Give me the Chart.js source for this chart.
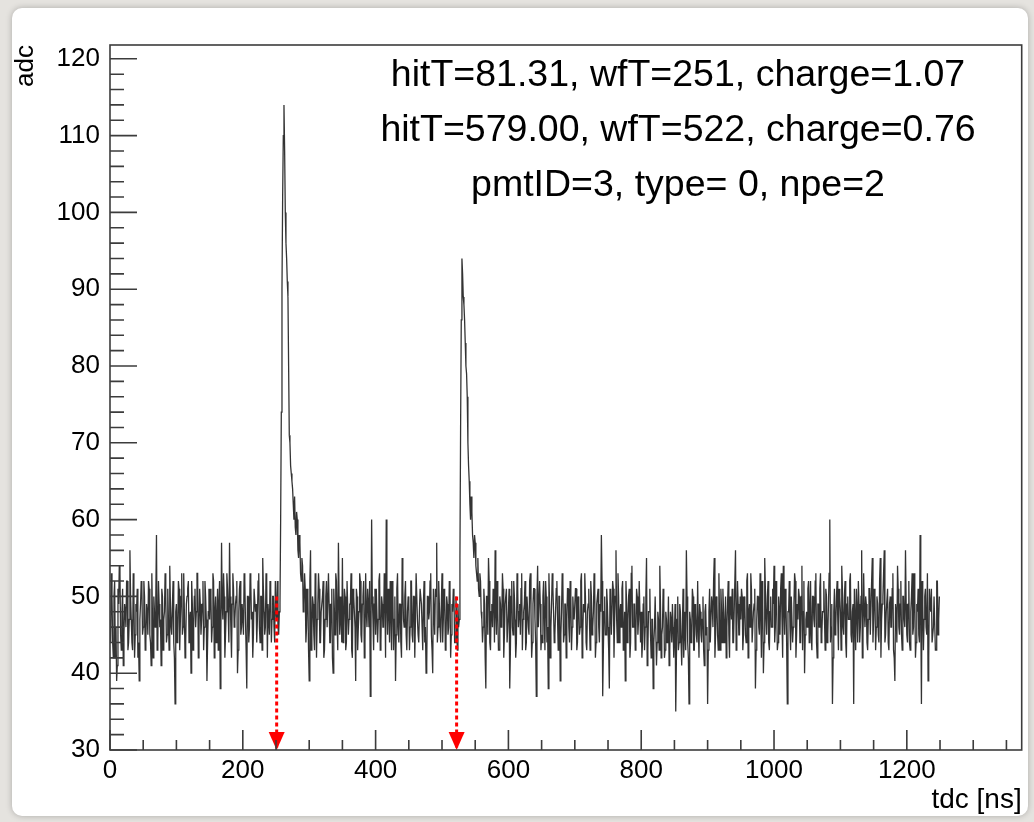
<!DOCTYPE html>
<html>
<head>
<meta charset="utf-8">
<title>PMT waveform</title>
<script src="https://cdn.jsdelivr.net/npm/chart.js@4.4.0/dist/chart.umd.min.js"></script>
<style>
  html, body { margin: 0; padding: 0; }
  body { width: 1034px; height: 822px; background: #e5e3df; position: relative; overflow: hidden; }
  #panel { position: absolute; left: 12px; top: 8px; width: 1016px; height: 808px; background: #fff; border-radius: 10px; box-shadow: 0 0 6px rgba(0,0,0,0.25); }
  #wrap { position: absolute; left: 0; top: 0; width: 1034px; height: 822px; }
</style>
</head>
<body>
<div id="panel"></div>
<div id="wrap"><canvas id="wf"></canvas></div>
<script>
// waveform samples, 1 ns apart, starting at 0 ns (one row = 50 ns)
const adc = [
  47,44,53,50,44,42,50,52,42,46,39,41,51,49,54,53,45,43,48,51,41,45,49,48,46,52,52,43,44,47,56,50,47,44,43,53,50,42,45,49,48,51,42,44,39,47,49,52,51,45,
  46,52,50,43,44,49,48,45,52,51,45,44,41,53,47,42,50,48,46,50,58,43,44,52,49,46,47,41,51,50,43,47,48,53,50,44,45,51,47,43,54,49,46,45,49,52,44,42,36,48,
  49,44,45,52,51,43,47,50,53,45,46,53,48,42,44,49,50,51,52,44,47,48,40,52,49,43,46,50,51,46,48,53,53,42,45,51,49,45,47,49,52,43,46,52,50,47,39,44,48,51,
  47,51,50,44,46,53,52,42,48,50,44,47,51,43,49,52,38,45,57,49,47,53,50,42,45,48,53,51,48,44,57,50,46,42,49,53,51,46,47,49,50,52,40,43,48,51,52,45,46,49,
  49,45,53,52,47,43,38,50,50,44,46,53,52,47,48,42,45,51,51,48,49,44,47,52,53,46,44,50,50,43,55,51,48,45,46,53,52,42,49,49,45,52,51,44,47,50,50,46,44,52,
  48,47,52,46,45,48,49,60,74,90,102,110,114,108,100,96,94,91,89,80,71,70,67,66,65,64,62,60,63,59,58,61,60,56,55,58,57,53,52,55,54,48,49,53,51,44,46,51,50,43,
  39,52,56,43,45,50,49,45,43,53,51,42,47,49,53,51,44,44,48,48,50,52,42,43,47,50,52,46,46,53,49,44,44,49,51,42,40,51,48,45,53,52,47,43,57,50,45,47,50,44,
  55,44,46,51,50,43,44,52,52,45,47,49,49,53,43,42,51,50,48,46,39,51,50,43,46,48,53,52,45,44,49,50,52,42,44,53,48,46,51,49,46,52,37,44,60,50,47,43,49,51,
  45,51,51,44,47,52,53,43,44,50,49,46,46,53,50,42,60,49,45,51,48,44,52,48,43,52,50,43,47,50,39,45,51,53,46,44,49,49,44,42,55,51,47,46,50,52,45,43,48,50,
  49,43,46,52,52,45,44,50,50,42,47,53,53,47,45,44,48,51,51,49,46,43,49,52,44,46,40,41,50,50,47,48,52,53,45,43,40,51,48,45,51,50,57,44,46,52,49,46,44,49,
  53,44,47,51,50,43,44,50,49,45,46,52,51,42,45,49,48,51,50,44,44,50,47,43,49,46,47,55,72,86,94,92,89,88,86,83,80,79,76,70,67,65,62,60,63,61,58,57,55,58,
  57,54,53,52,55,51,50,53,52,48,47,44,46,51,49,42,38,50,50,45,55,52,44,43,48,49,46,51,50,44,56,48,45,52,48,43,43,50,49,46,47,53,51,42,45,49,49,51,44,44,
  48,51,38,43,50,52,46,45,52,50,47,42,44,53,51,46,48,49,45,51,53,43,47,48,49,52,43,44,50,50,46,45,52,53,48,42,44,49,51,51,47,44,37,50,54,46,46,52,49,43,
  45,44,50,52,47,43,52,50,44,46,38,53,49,42,46,49,53,51,48,44,45,48,51,52,47,43,50,50,39,45,48,53,52,44,45,49,49,42,47,51,51,46,44,52,50,43,46,50,48,47,
  47,51,51,43,44,50,49,45,46,52,53,42,45,49,48,53,50,44,43,48,49,51,47,43,52,50,45,46,48,53,51,42,44,49,50,51,46,44,49,48,58,52,37,43,48,50,45,45,51,49,
  46,43,38,51,49,45,45,52,51,42,47,50,56,47,44,53,50,44,48,49,46,51,52,43,45,48,39,52,49,44,47,50,51,42,44,53,54,46,46,49,49,43,45,51,50,45,47,52,52,44,
  48,42,44,49,50,43,46,50,55,41,43,48,48,51,45,42,47,47,38,44,46,50,50,41,44,48,47,43,54,49,42,45,46,51,49,42,43,48,47,44,45,50,41,43,48,47,44,49,46,42,
  45,49,35,42,47,50,43,44,49,48,44,41,46,51,42,45,48,43,56,50,44,42,36,48,47,44,45,51,50,43,43,49,48,45,44,52,46,42,49,48,45,44,47,50,43,41,48,49,45,46,
  36,43,48,51,44,44,50,49,46,52,55,42,45,50,49,45,43,53,47,43,51,48,44,51,48,44,46,50,42,46,49,52,45,42,50,49,47,51,44,44,48,48,56,43,46,52,49,45,45,50,
  47,51,50,43,45,50,49,45,44,52,53,42,48,49,46,53,51,44,44,48,49,51,38,43,47,50,50,46,45,53,48,42,52,49,40,44,55,51,47,45,50,52,44,43,48,50,46,46,51,49,
  54,44,46,52,49,43,44,50,48,45,51,53,47,42,54,49,45,51,49,44,36,48,48,52,46,43,50,50,44,46,49,53,52,42,45,49,47,51,50,44,44,50,54,43,48,52,40,45,47,48,
  46,51,52,44,48,52,45,43,50,50,47,46,52,53,44,42,49,49,46,51,53,44,45,48,48,52,47,43,51,50,44,45,49,53,60,44,46,49,36,42,48,51,45,46,50,52,47,43,51,50,
  48,43,54,51,46,45,50,52,44,42,49,50,47,47,52,53,45,44,48,49,36,51,47,43,51,48,44,52,49,44,46,50,56,42,45,53,48,46,50,49,44,43,47,51,51,45,45,52,55,44,
  47,51,50,43,46,50,49,45,44,52,55,42,47,49,50,53,56,44,45,48,48,51,44,43,49,50,46,46,51,53,43,42,39,49,48,44,54,51,46,45,49,52,45,43,50,50,47,46,56,49,
  45,44,49,52,44,43,48,50,53,45,46,53,50,42,44,49,48,51,45,44,58,48,36,52,49,43,47,50,51,46,45,53,39,42,51,49,48,51,44,44,46,50,50,43,43,52,52,45,47,50
];
const sampleNs = 1;
const tdc = adc.map((_, i) => i * sampleNs);

// reconstructed waveform times, drawn as red arrows
const arrowT = [251, 522];
const arrowFrom = 50;
const arrowTo = 30;

const xTickLabels = [0, 200, 400, 600, 800, 1000, 1200];
const yTickLabels = [30, 40, 50, 60, 70, 80, 90, 100, 110, 120];
const xMinorStep = 50;
const yMinorStep = 2;

const infoLines = [
  "hitT=81.31, wfT=251, charge=1.07",
  "hitT=579.00, wfT=522, charge=0.76",
  "pmtID=3, type= 0, npe=2"
];

const FONT = '"Liberation Sans", Arial, Helvetica, sans-serif';

// ROOT style frame: box, inward ticks, arrow heads, text
const rootFrame = {
  id: "rootFrame",
  afterDatasetsDraw(chart) {
    const { ctx, chartArea: a, scales: { x, y } } = chart;
    ctx.save();

    ctx.fillStyle = "#ff0000";
    arrowT.forEach(t => {
      const px = x.getPixelForValue(t);
      const py = y.getPixelForValue(arrowTo);
      ctx.beginPath();
      ctx.moveTo(px - 8, py - 18);
      ctx.lineTo(px + 8, py - 18);
      ctx.lineTo(px, py);
      ctx.closePath();
      ctx.fill();
    });

    ctx.strokeStyle = "#3c3c3c";
    ctx.lineWidth = 1.6;
    ctx.strokeRect(a.left, a.top, a.right - a.left, a.bottom - a.top);

    ctx.beginPath();
    for (let v = x.min; v <= x.max; v += xMinorStep) {
      const px = x.getPixelForValue(v);
      const len = xTickLabels.includes(v) ? 20 : 10;
      ctx.moveTo(px, a.bottom);
      ctx.lineTo(px, a.bottom - len);
    }
    for (let v = y.min; v <= y.max; v += yMinorStep) {
      const py = y.getPixelForValue(v);
      const len = yTickLabels.includes(v) ? 27 : 14;
      ctx.moveTo(a.left, py);
      ctx.lineTo(a.left + len, py);
    }
    ctx.stroke();

    ctx.fillStyle = "#000";
    ctx.font = "37.5px " + FONT;
    ctx.textAlign = "center";
    ctx.textBaseline = "middle";
    infoLines.forEach((s, i) => ctx.fillText(s, 678, 76 + i * 55));
    ctx.restore();
  }
};

new Chart(document.getElementById("wf"), {
  type: "line",
  data: {
    labels: tdc,
    datasets: [
      ...arrowT.map(t => ({
        data: [{ x: t, y: arrowFrom }, { x: t, y: arrowTo }],
        borderColor: "#ff0000",
        borderWidth: 3,
        borderDash: [4, 3],
        pointRadius: 0
      })),
      {
        data: adc,
        borderColor: "rgba(0,0,0,0.8)",
        borderWidth: 1.3,
        pointRadius: 0,
        tension: 0
      }
    ]
  },
  options: {
    responsive: true,
    maintainAspectRatio: false,
    animation: false,
    layout: { padding: { left: 0, top: 45, right: 12.3, bottom: 0 } },
    plugins: { legend: { display: false }, tooltip: { enabled: false } },
    scales: {
      x: {
        type: "linear",
        min: 0,
        max: 1373,
        afterBuildTicks: s => { s.ticks = xTickLabels.map(v => ({ value: v })); },
        afterFit: s => { s.height = 72; },
        grid: { display: false, drawTicks: false },
        border: { display: false },
        ticks: { color: "#000", padding: 5, maxRotation: 0, callback: v => String(v), font: { family: FONT, size: 26 } },
        title: { display: true, text: "tdc [ns]", align: "end", color: "#000", padding: { top: 0, bottom: 5 }, font: { family: FONT, size: 28 } }
      },
      y: {
        min: 30,
        max: 121.8,
        afterBuildTicks: s => { s.ticks = yTickLabels.map(v => ({ value: v })); },
        afterFit: s => { s.width = 110; },
        grid: { display: false, drawTicks: false },
        border: { display: false },
        ticks: { color: "#000", padding: 10, callback: v => String(v), font: { family: FONT, size: 26 } },
        title: { display: true, text: "adc", align: "end", color: "#000", padding: { top: 10, bottom: 0 }, font: { family: FONT, size: 26 } }
      }
    }
  },
  plugins: [rootFrame]
});
</script>
</body>
</html>
